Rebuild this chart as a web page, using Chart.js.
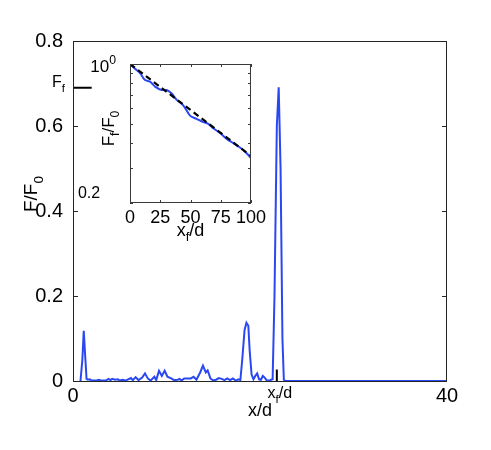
<!DOCTYPE html>
<html>
<head>
<meta charset="utf-8">
<script src="https://cdn.jsdelivr.net/npm/chart.js@4.4.0/dist/chart.umd.min.js"></script>
<style>
  html, body { margin: 0; padding: 0; background: #fff; }
  #wrap { position: relative; width: 491px; height: 450px; }
  #wrap canvas { position: absolute; left: 0; top: 0; }
</style>
</head>
<body>
<div id="wrap">
  <canvas id="main" width="491" height="450"></canvas>
  <canvas id="inset" width="491" height="450"></canvas>
</div>
<script>
// main trace: F/F0 along x/d
var posX = [0.8, 1.0, 1.15, 1.3, 1.45, 1.6, 1.8, 2.0, 2.5, 2.8, 3.0, 3.5, 3.8, 4.0, 4.2, 4.5, 4.8, 5.0,
  5.3, 5.6, 5.9, 6.2, 6.4, 6.7, 7.0, 7.4, 7.7, 8.0, 8.3, 8.7, 8.9, 9.2, 9.5, 9.8, 10.1, 10.5, 10.8,
  11.2, 11.4, 11.6, 11.9, 12.3, 12.6, 12.9, 13.2, 13.6, 13.9, 14.2, 14.4, 14.7, 15.0, 15.3, 15.6,
  15.9, 16.2, 16.5, 16.8, 17.1, 17.4, 17.7, 17.9, 18.1, 18.35, 18.55, 18.75, 18.9, 19.1, 19.3, 19.5,
  19.7, 19.9, 20.1, 20.3, 20.5, 20.7, 21.0, 21.2, 21.35, 21.55, 21.8, 22.0, 22.2, 22.4, 22.55, 22.7, 40];
var forceY = [0, 0.05, 0.118, 0.06, 0.005, 0.003, 0.004, 0.001, 0.001, 0.003, 0.001, 0.001, 0.005, 0.002, 0.005, 0.003, 0.004, 0.001,
  0.003, 0.001, 0.004, 0.007, 0.002, 0.009, 0.002, 0.008, 0.018, 0.006, 0.001, 0.01, 0.002, 0.024, 0.012, 0.024, 0.01, 0.006, 0.002,
  0.003, 0.005, 0.001, 0.006, 0.006, 0.006, 0.01, 0.003, 0.02, 0.036, 0.02, 0.025, 0.006, 0.001, 0.003, 0.007,
  0.005, 0.002, 0.006, 0.002, 0.006, 0.001, 0.004, 0.002, 0.05, 0.12, 0.137, 0.13, 0.07, 0.015, 0.004, 0.012,
  0.018, 0.004, 0.003, 0.012, 0.008, 0.002, 0.001, 0.003, 0.004, 0.2, 0.6, 0.691, 0.5, 0.1, 0.003, 0, 0];
var xF = 21.8;      // front position
var fF = 0.69;      // force at the front
var xfMarkTop = 0.027;
var ffMarkEnd = 2;
var mainTicksX = [0, 40];

// inset: F_f/F_0 against x_f/d (log y)
var frontX = [0, 4, 8.3, 12.4, 16.5, 20.7, 26.2, 30.3, 34.5, 38.6, 44, 49.6, 55, 60.6, 64.7, 68.9, 74.4, 79.9, 85.4, 90.9, 96.4, 100];
var frontY = [1.0, 0.95, 0.90, 0.83, 0.815, 0.77, 0.74, 0.74, 0.71, 0.66, 0.62, 0.55, 0.53, 0.51, 0.50, 0.475, 0.45, 0.42, 0.40, 0.38, 0.356, 0.336];
var fitX = [0, 100];
var fitY = [1, 0.345];
var insetTicksX = [0, 25, 50, 75, 100];
var insetLogTicks = [0.2, 0.3, 0.4, 0.5, 0.6, 0.7, 0.8, 0.9, 1];

var FONT = '"Liberation Sans", Arial, Helvetica, sans-serif';
var BLUE = '#2a48f2';
Chart.defaults.font.family = FONT;
Chart.defaults.color = '#000';

function pts(xs, ys) {
	return xs.map(function(x, i) { return {x: x, y: ys[i]}; });
}

// draws text pieces, shift 1 = subscript, -1 = superscript
function drawParts(ctx, parts, x, y, size, align) {
	var widths = parts.map(function(p) {
		ctx.font = (p[1] ? size * 0.72 : size) + 'px ' + FONT;
		return ctx.measureText(p[0]).width;
	});
	var total = widths.reduce(function(a, b) { return a + b; }, 0);
	var cx = align === 'center' ? x - total / 2 : (align === 'right' ? x - total : x);
	ctx.textAlign = 'left';
	ctx.textBaseline = 'alphabetic';
	ctx.fillStyle = '#000';
	parts.forEach(function(p, i) {
		ctx.font = (p[1] ? size * 0.72 : size) + 'px ' + FONT;
		ctx.fillText(p[0], cx, y + (p[1] > 0 ? size * 0.3 : p[1] < 0 ? -size * 0.45 : 0));
		cx += widths[i];
	});
}

function drawRotated(ctx, parts, x, y, size) {
	ctx.save();
	ctx.translate(x, y);
	ctx.rotate(-Math.PI / 2);
	drawParts(ctx, parts, 0, 0, size, 'center');
	ctx.restore();
}

var mainDecor = {
	id: 'mainDecor',
	afterDraw: function(chart) {
		var ctx = chart.ctx, a = chart.chartArea;
		var xs = chart.scales.x, ys = chart.scales.y;
		ctx.save();
		ctx.strokeStyle = '#262626';
		ctx.lineWidth = 1;
		ctx.strokeRect(a.left + 0.5, a.top + 0.5, a.right - a.left - 1, a.bottom - a.top);
		ys.ticks.forEach(function(t) {
			var py = Math.round(ys.getPixelForValue(t.value)) + 0.5;
			ctx.beginPath();
			ctx.moveTo(a.left, py); ctx.lineTo(a.left + 5, py);
			ctx.moveTo(a.right, py); ctx.lineTo(a.right - 5, py);
			ctx.stroke();
		});
		drawParts(ctx, [['F', 0], ['f', 1]], a.left - 21, ys.getPixelForValue(fF) - 1, 16, 'left');
		drawParts(ctx, [['x', 0], ['f', 1], ['/d', 0]], xs.getPixelForValue(xF) + 3, a.bottom + 17, 16, 'center');
		drawParts(ctx, [['x/d', 0]], (a.left + a.right) / 2, a.bottom + 35, 18, 'center');
		drawRotated(ctx, [['F/F', 0], ['0', 1]], a.left - 36, 194, 19);
		ctx.restore();
	}
};

new Chart(document.getElementById('main'), {
	type: 'line',
	data: {
		datasets: [
			{ data: pts(posX, forceY), borderColor: BLUE, borderWidth: 2, pointRadius: 0, tension: 0 },
			{ data: pts([0, ffMarkEnd], [fF, fF]), borderColor: '#000', borderWidth: 2, pointRadius: 0 },
			{ data: pts([xF, xF], [0, xfMarkTop]), borderColor: '#000', borderWidth: 2, pointRadius: 0 }
		]
	},
	options: {
		responsive: false,
		animation: false,
		layout: { padding: { left: 0, top: 41, right: 44, bottom: 39 } },
		plugins: { legend: { display: false }, tooltip: { enabled: false } },
		scales: {
			x: {
				type: 'linear', min: 0, max: 40,
				grid: { display: false }, border: { display: false },
				afterBuildTicks: function(s) { s.ticks = mainTicksX.map(function(v) { return {value: v}; }); },
				ticks: { font: { size: 20 }, padding: -5, maxRotation: 0 },
				afterFit: function(s) { s.height = 30; }
			},
			y: {
				min: 0, max: 0.8,
				grid: { display: false }, border: { display: false },
				ticks: { stepSize: 0.2, font: { size: 20 }, padding: 2,
					callback: function(v) { return v === 0 ? '0' : v.toFixed(1); } },
				afterFit: function(s) { s.width = 73; }
			}
		}
	},
	plugins: [mainDecor]
});

var insetDecor = {
	id: 'insetDecor',
	afterDraw: function(chart) {
		var ctx = chart.ctx, a = chart.chartArea;
		var xs = chart.scales.x, ys = chart.scales.y;
		ctx.save();
		ctx.strokeStyle = '#3a3a3a';
		ctx.lineWidth = 1;
		ctx.strokeRect(a.left + 0.5, a.top + 0.5, a.right - a.left - 1, a.bottom - a.top - 1);
		insetLogTicks.forEach(function(v) {
			var py = Math.round(ys.getPixelForValue(v)) + 0.5;
			ctx.beginPath();
			ctx.moveTo(a.left, py); ctx.lineTo(a.left + 3, py);
			ctx.moveTo(a.right, py); ctx.lineTo(a.right - 3, py);
			ctx.stroke();
		});
		insetTicksX.forEach(function(v) {
			var px = Math.round(xs.getPixelForValue(v)) + 0.5;
			ctx.beginPath();
			ctx.moveTo(px, a.bottom); ctx.lineTo(px, a.bottom - 3);
			ctx.moveTo(px, a.top); ctx.lineTo(px, a.top + 3);
			ctx.stroke();
		});
		drawParts(ctx, [['10', 0], ['0', -1]], a.left - 14, a.top + 8, 17, 'right');
		drawParts(ctx, [['0.2', 0]], a.left - 41, a.bottom - 5, 16, 'center');
		drawParts(ctx, [['x', 0], ['f', 1], ['/d', 0]], (a.left + a.right) / 2, a.bottom + 33, 18, 'center');
		drawRotated(ctx, [['F', 0], ['f', 1], ['/F', 0], ['0', 1]], a.left - 16, (a.top + a.bottom) / 2 - 5, 17);
		ctx.restore();
	}
};

new Chart(document.getElementById('inset'), {
	type: 'line',
	data: {
		datasets: [
			{ data: pts(fitX, fitY), borderColor: '#000', borderWidth: 2.2, borderDash: [6, 4], pointRadius: 0 },
			{ data: pts(frontX, frontY), borderColor: BLUE, borderWidth: 2, pointRadius: 0, tension: 0.3 }
		]
	},
	options: {
		responsive: false,
		animation: false,
		layout: { padding: { left: 0, top: 64, right: 240, bottom: 217 } },
		plugins: { legend: { display: false }, tooltip: { enabled: false } },
		scales: {
			x: {
				type: 'linear', min: 0, max: 100,
				grid: { display: false }, border: { display: false },
				afterBuildTicks: function(s) { s.ticks = insetTicksX.map(function(v) { return {value: v}; }); },
				ticks: { font: { size: 18 }, padding: -4, maxRotation: 0, autoSkip: false },
				afterFit: function(s) { s.height = 30; }
			},
			y: {
				type: 'logarithmic', min: 0.2, max: 1,
				grid: { display: false }, border: { display: false },
				ticks: { display: false },
				afterFit: function(s) { s.width = 130; }
			}
		}
	},
	plugins: [insetDecor]
});
</script>
</body>
</html>
